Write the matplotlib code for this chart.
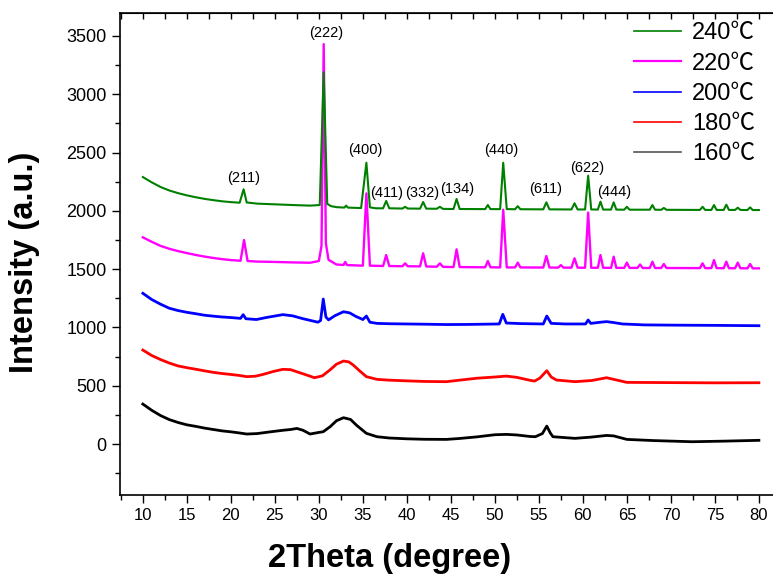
import matplotlib.pyplot as plt
from matplotlib.ticker import MultipleLocator

# --- XRD patterns (2theta in degree, intensity in a.u.) ---
x_240 = [10, 11, 12, 13, 14, 15, 16, 17, 18, 19, 20, 21.0, 21.45, 21.8, 23, 25, 27, 29,
         30.1, 30.55, 30.95, 31.4, 32, 32.9, 33.1, 33.3, 34.8, 35.4, 35.8, 36.5, 37.3,
         37.65, 38.0, 39.5, 39.8, 40.1, 41.5, 41.85, 42.2, 43.4, 43.75, 44.1, 45.3, 45.65,
         46.0, 48.9, 49.2, 49.5, 50.6, 50.95, 51.35, 52.3, 52.6, 52.9, 55.5, 55.85, 56.2,
         58.7, 59.05, 59.4, 60.25, 60.6, 60.95, 61.7, 62.0, 62.3, 63.2, 63.5, 63.8, 64.7,
         65.0, 65.3, 67.6, 67.9, 68.2, 68.9, 69.2, 69.5, 73.3, 73.6, 73.9, 74.6, 74.9,
         75.2, 76.0, 76.3, 76.6, 77.3, 77.6, 77.9, 78.7, 79.0, 79.3, 80]
y_240 = [2290, 2245, 2205, 2175, 2152, 2133, 2117, 2103, 2092, 2082, 2075, 2070, 2185, 2072,
         2062, 2056, 2050, 2045, 2050, 3190, 2060, 2040, 2032, 2028, 2045, 2028, 2024,
         2413, 2030, 2022, 2022, 2085, 2022, 2020, 2035, 2020, 2019, 2076, 2019, 2018,
         2035, 2017, 2016, 2102, 2016, 2015, 2050, 2015, 2015, 2413, 2015, 2014, 2040,
         2014, 2013, 2073, 2013, 2012, 2065, 2012, 2012, 2302, 2012, 2011, 2079, 2011,
         2011, 2073, 2011, 2010, 2035, 2010, 2010, 2050, 2010, 2009, 2025, 2009, 2008,
         2035, 2008, 2008, 2050, 2008, 2008, 2053, 2008, 2008, 2027, 2008, 2007, 2030,
         2007, 2007]

x_220 = [10, 11, 12, 13, 14, 15, 16, 17, 18, 19, 20, 21.1, 21.5, 21.9, 23, 25, 27, 29,
         30.0, 30.3, 30.55, 30.8, 31.1, 32, 32.8, 33.0, 33.2, 35.0, 35.4, 35.8, 37.3,
         37.65, 38.0, 39.5, 39.8, 40.1, 41.5, 41.85, 42.2, 43.4, 43.75, 44.1, 45.3, 45.65,
         46.0, 48.9, 49.2, 49.5, 50.6, 50.95, 51.35, 52.3, 52.6, 52.9, 55.5, 55.85, 56.2,
         57.2, 57.5, 57.8, 58.7, 59.05, 59.4, 60.25, 60.6, 60.95, 61.7, 62.0, 62.3, 63.2,
         63.5, 63.8, 64.7, 65.0, 65.3, 66.2, 66.5, 66.8, 67.6, 67.9, 68.2, 68.9, 69.2,
         69.5, 73.3, 73.6, 73.9, 74.6, 74.9, 75.2, 76.0, 76.3, 76.6, 77.3, 77.6, 77.9,
         78.7, 79.0, 79.3, 80]
y_220 = [1773, 1735, 1700, 1675, 1655, 1638, 1622, 1608, 1596, 1586, 1578, 1572, 1750, 1570,
         1565, 1562, 1558, 1555, 1570, 1700, 3430, 1720, 1580, 1540, 1536, 1562, 1535,
         1530, 2150, 1530, 1527, 1621, 1527, 1525, 1550, 1525, 1524, 1636, 1523, 1521,
         1550, 1520, 1518, 1670, 1518, 1516, 1570, 1516, 1515, 2010, 1515, 1515, 1556,
         1515, 1514, 1613, 1514, 1513, 1535, 1513, 1513, 1593, 1513, 1512, 1985, 1512,
         1512, 1621, 1512, 1511, 1607, 1511, 1511, 1556, 1511, 1511, 1540, 1510, 1510,
         1564, 1510, 1510, 1544, 1510, 1509, 1550, 1509, 1509, 1578, 1509, 1508, 1564,
         1508, 1508, 1556, 1508, 1507, 1544, 1507, 1507]

x_200 = [10, 11, 12, 13, 14, 15, 16, 17, 18, 19, 20, 21.1, 21.4, 21.7, 22.9, 24, 25.9, 27,
         28.2, 29.9, 30.2, 30.5, 30.8, 31.1, 31.8, 32.8, 33.5, 34.2, 35.0, 35.4, 35.8,
         36.6, 38, 40, 42, 44.5, 47, 50.5, 50.9, 51.3, 53, 55.5, 55.9, 56.4, 58, 60.3,
         60.6, 60.9, 62, 62.7, 63.5, 64.5, 67, 70, 75, 80]
y_200 = [1293, 1240, 1200, 1165, 1145, 1130, 1118, 1105, 1097, 1090, 1085, 1078, 1110, 1075,
         1068, 1085, 1110, 1100, 1075, 1045, 1060, 1244, 1090, 1065, 1100, 1135, 1125,
         1095, 1068, 1098, 1045, 1035, 1032, 1030, 1028, 1025, 1026, 1030, 1113, 1038,
         1033, 1030, 1098, 1035, 1030, 1030, 1064, 1035, 1045, 1050, 1042, 1030, 1022,
         1020, 1018, 1015]

x_180 = [10, 11, 12, 13, 14, 15, 16, 17, 18, 19, 20, 21, 21.8, 22.8, 23.7, 24.8, 25.9, 26.8,
         27.5, 28.5, 29.5, 30.4, 31.25, 32.0, 32.8, 33.4, 33.9, 34.6, 35.4, 36.6, 38, 40,
         42, 44.5, 46, 48, 50, 51.3, 52.5, 53.8, 54.5, 55.1, 55.9, 56.4, 57.0, 59.1, 61,
         62.7, 63.5, 65.0, 70, 75, 80]
y_180 = [806, 760, 725, 695, 670, 655, 642, 628, 615, 605, 597, 588, 578, 582, 598, 622, 641,
         638, 620, 595, 569, 585, 635, 685, 712, 705, 678, 630, 578, 555, 548, 542, 537,
         535, 548, 565, 575, 583, 572, 550, 540, 565, 629, 575, 549, 535, 545, 569, 555,
         529, 527, 525, 526]

x_160 = [10, 11, 12, 13, 14, 15, 16, 17, 18, 19, 20, 21, 21.8, 23, 24.5, 25.9, 26.8, 27.5,
         28.2, 29.0, 30.0, 30.5, 31.3, 32.0, 32.8, 33.6, 34.3, 35.4, 36.6, 38, 40, 42,
         44.5, 46, 48, 50, 51.3, 52.5, 54.0, 54.6, 55.4, 55.9, 56.3, 56.6, 58, 59.1, 61,
         62.7, 63.5, 65, 68, 72.4, 76, 80]
y_160 = [343, 290, 245, 210, 185, 165, 152, 137, 125, 113, 105, 95, 86, 90, 105, 118, 125,
         134, 118, 86, 100, 106, 150, 200, 226, 211, 160, 92, 63, 52, 45, 41, 40, 48, 62,
         80, 83, 78, 65, 63, 90, 154, 95, 63, 55, 49, 60, 74, 70, 40, 30, 20, 25, 32]

# peak indices and where their text sits
peak_labels = ["(211)", "(222)", "(400)", "(411)", "(332)", "(134)",
               "(440)", "(611)", "(622)", "(444)"]
peak_x = [21.5, 30.8, 35.3, 37.7, 41.7, 45.7, 50.7, 55.8, 60.5, 63.6]
peak_y = [2279, 3529, 2522, 2151, 2151, 2185, 2522, 2185, 2365, 2165]

plt.rcParams["font.family"] = ["Liberation Sans", "DejaVu Sans"]

fig = plt.figure(figsize=(7.73, 5.75), dpi=100)
ax = fig.add_axes([0.1552, 0.1391, 0.855, 0.8383])

ax.plot(x_160, y_160, color="black", lw=2.0)
ax.plot(x_180, y_180, color="#ff0000", lw=2.0)
ax.plot(x_200, y_200, color="#0000ff", lw=2.0)
ax.plot(x_220, y_220, color="#ff00ff", lw=1.7)
ax.plot(x_240, y_240, color="#008000", lw=1.5)

for lab, px, py in zip(peak_labels, peak_x, peak_y):
    ax.text(px, py, lab, ha="center", va="center", fontsize=10.5)

# legend (top entry first)
handles = [
    plt.Line2D([], [], color="#008000", lw=1.2),
    plt.Line2D([], [], color="#ff00ff", lw=1.6),
    plt.Line2D([], [], color="#0000ff", lw=1.2),
    plt.Line2D([], [], color="#ff0000", lw=1.2),
    plt.Line2D([], [], color="#555555", lw=1.2),
]
labels = ["240℃", "220℃", "200℃", "180℃", "160℃"]
fig.legend(handles, labels, loc="upper right", bbox_to_anchor=(0.998, 0.99),
           frameon=False, handlelength=2.0, handletextpad=0.45,
           labelspacing=0.35, borderpad=0.2,
           prop={"family": ["Liberation Sans", "Noto Sans CJK SC"], "size": 17})

ax.set_xlim(7.4, 82.5)
ax.set_ylim(-437, 3697)
ax.xaxis.set_minor_locator(MultipleLocator(2.5))
ax.yaxis.set_major_locator(MultipleLocator(500))
ax.yaxis.set_minor_locator(MultipleLocator(250))
ax.set_xticks(range(10, 81, 5))
ax.tick_params(axis="both", which="major", direction="out", length=6, width=1,
               top=False, right=False)
ax.tick_params(axis="x", which="major", labelsize=12)
ax.tick_params(axis="y", which="major", labelsize=13)
ax.tick_params(axis="both", which="minor", direction="out", length=3.5, width=1,
               top=False, right=False)

# inward ticks along the top frame
top = ax.secondary_xaxis("top")
top.set_xticks([v * 2.5 for v in range(3, 33)])
top.tick_params(direction="in", length=4, width=1, labeltop=False)

for s in ax.spines.values():
    s.set_linewidth(1.2)

ax.set_xlabel("2Theta (degree)", fontsize=23.5, fontweight="bold")
ax.set_ylabel("Intensity (a.u.)", fontsize=23.5, fontweight="bold")
ax.xaxis.set_label_coords(0.4085, -0.131)
ax.yaxis.set_label_coords(-0.1437, 0.483)
ax.xaxis.label.set_va("center")
ax.yaxis.label.set_va("center")

fig.savefig("out.png", dpi=100)
